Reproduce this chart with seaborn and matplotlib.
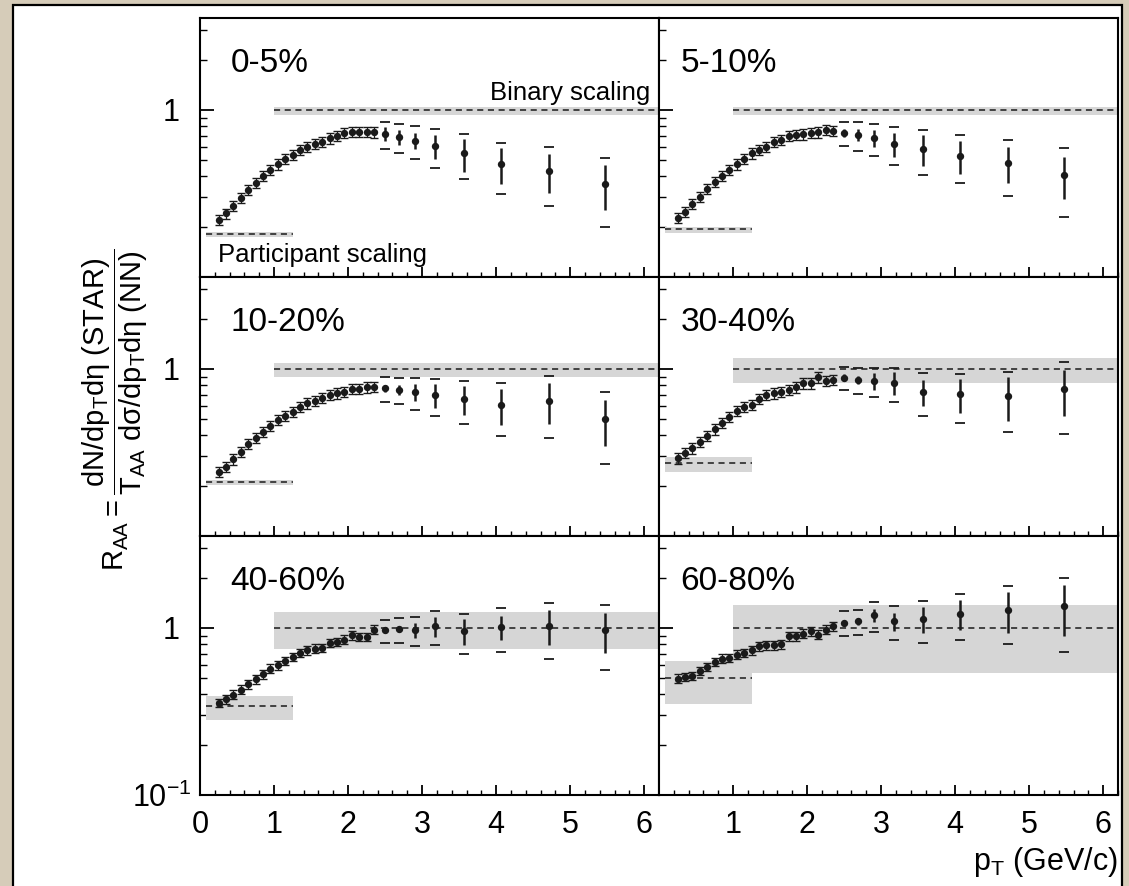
import numpy as np
import pandas as pd
import matplotlib
matplotlib.use("Agg")
import matplotlib.pyplot as plt
from matplotlib.patches import Rectangle
from matplotlib.ticker import FixedLocator, MultipleLocator, NullFormatter
import seaborn as sns

# pT bin centres (GeV/c), same for every centrality class
PT = [0.25, 0.35, 0.45, 0.55, 0.65, 0.75, 0.85, 0.95, 1.05, 1.15, 1.25,
      1.35, 1.45, 1.55, 1.65, 1.75, 1.85, 1.95, 2.05, 2.15, 2.25, 2.35,
      2.5, 2.69, 2.9, 3.17, 3.56, 4.07, 4.71, 5.47]
N_LOW = 22  # dense low-pT points, the rest are the wide high-pT bins

CENTRALITY = ["0-5%", "5-10%", "10-20%", "30-40%", "40-60%", "60-80%"]

RAA = [
    [0.219, 0.240, 0.267, 0.299, 0.332, 0.367, 0.403, 0.437, 0.473, 0.507, 0.540,
     0.576, 0.603, 0.626, 0.646, 0.676, 0.699, 0.731, 0.738, 0.738, 0.738, 0.735,
     0.718, 0.686, 0.655, 0.609, 0.550, 0.473, 0.431, 0.359],
    [0.225, 0.246, 0.273, 0.303, 0.338, 0.372, 0.403, 0.437, 0.473, 0.511, 0.550,
     0.576, 0.603, 0.646, 0.661, 0.699, 0.708, 0.715, 0.731, 0.735, 0.759, 0.749,
     0.731, 0.708, 0.676, 0.626, 0.584, 0.533, 0.484, 0.408],
    [0.241, 0.260, 0.288, 0.320, 0.356, 0.388, 0.422, 0.456, 0.495, 0.526, 0.555,
     0.595, 0.623, 0.646, 0.674, 0.699, 0.715, 0.732, 0.756, 0.759, 0.777, 0.784,
     0.766, 0.749, 0.725, 0.695, 0.658, 0.609, 0.646, 0.500],
    [0.292, 0.316, 0.335, 0.367, 0.399, 0.435, 0.477, 0.516, 0.560, 0.590, 0.609,
     0.661, 0.699, 0.715, 0.732, 0.749, 0.777, 0.821, 0.821, 0.891, 0.848, 0.859,
     0.887, 0.859, 0.848, 0.828, 0.732, 0.705, 0.689, 0.756],
    [0.356, 0.374, 0.399, 0.428, 0.460, 0.493, 0.528, 0.571, 0.598, 0.634, 0.670,
     0.708, 0.735, 0.752, 0.759, 0.813, 0.824, 0.851, 0.904, 0.883, 0.883, 0.977,
     0.968, 0.982, 0.968, 1.028, 0.959, 1.014, 1.033, 0.968],
    [0.497, 0.509, 0.516, 0.553, 0.584, 0.626, 0.655, 0.661, 0.692, 0.708, 0.735,
     0.777, 0.787, 0.787, 0.798, 0.891, 0.891, 0.925, 0.955, 0.912, 0.977, 1.023,
     1.076, 1.096, 1.191, 1.096, 1.137, 1.218, 1.288, 1.348],
]

# errors of the 8 high-pT points (absolute)
STAT_HIGH = [
    [0.067, 0.070, 0.068, 0.097, 0.123, 0.115, 0.113, 0.107],
    [0.040, 0.060, 0.080, 0.100, 0.125, 0.120, 0.120, 0.115],
    [0.040, 0.050, 0.085, 0.115, 0.130, 0.145, 0.180, 0.155],
    [0.040, 0.050, 0.095, 0.130, 0.130, 0.160, 0.200, 0.235],
    [0.040, 0.040, 0.100, 0.140, 0.170, 0.170, 0.240, 0.260],
    [0.040, 0.050, 0.100, 0.140, 0.200, 0.250, 0.350, 0.450],
]
SYS_HIGH = [
    [0.134, 0.137, 0.145, 0.158, 0.165, 0.160, 0.165, 0.160],
    [0.120, 0.137, 0.145, 0.160, 0.175, 0.170, 0.180, 0.180],
    [0.130, 0.135, 0.155, 0.170, 0.190, 0.210, 0.260, 0.230],
    [0.137, 0.150, 0.170, 0.190, 0.210, 0.230, 0.270, 0.350],
    [0.150, 0.170, 0.190, 0.240, 0.260, 0.300, 0.380, 0.410],
    [0.180, 0.190, 0.240, 0.250, 0.320, 0.370, 0.490, 0.630],
]
# relative error bars on the dense low-pT points
LOW_PT_ERR = [0.07, 0.07, 0.07, 0.07, 0.06, 0.06]

# scaling expectations with their uncertainty bands
BINARY_BAND = [(0.933, 1.047), (0.933, 1.047), (0.90, 1.08),
               (0.828, 1.169), (0.752, 1.247), (0.538, 1.367)]
PART_LEVEL = [0.180, 0.193, 0.210, 0.275, 0.341, 0.502]
PART_BAND = [(0.174, 0.187), (0.184, 0.200), (0.202, 0.217),
             (0.243, 0.299), (0.280, 0.392), (0.349, 0.632)]

sns.set_theme(style="ticks")
plt.rcParams["font.family"] = ["Liberation Sans", "DejaVu Sans"]
plt.rcParams["mathtext.fontset"] = "custom"
plt.rcParams["mathtext.rm"] = "Liberation Sans"
plt.rcParams["mathtext.it"] = "Liberation Sans:italic"
plt.rcParams["mathtext.bf"] = "Liberation Sans:bold"

W, H = 1129, 886
fig, axes = plt.subplots(3, 2, figsize=(W / 100, H / 100), dpi=100,
                         gridspec_kw=dict(left=200 / W, right=1118 / W,
                                          top=1 - 18 / H, bottom=1 - 795 / H,
                                          hspace=0, wspace=0))
fig.patch.set_facecolor("#d6ccb9")
fig.patches.append(Rectangle((13 / W, -0.02), (1122 - 13) / W, 1.02 - 5 / H,
                             transform=fig.transFigure, facecolor="white",
                             edgecolor="black", lw=1.6, zorder=-1))

band_color = "#d6d6d6"
dash = (0, (4, 3))

for i, ax in enumerate(axes.flat):
    row, col = divmod(i, 2)
    y = np.array(RAA[i])
    pt = np.array(PT)

    ax.set_yscale("log")
    ax.set_xlim(0, 6.2)
    ax.set_ylim(0.1, 3.55)

    # binary and participant scaling
    lo, hi = BINARY_BAND[i]
    ax.fill_between([1.0, 6.2], lo, hi, color=band_color, lw=0, zorder=1)
    ax.plot([1.0, 6.2], [1, 1], color="k", lw=1.1, ls=dash, zorder=2)
    plo, phi = PART_BAND[i]
    ax.fill_between([0.08, 1.25], plo, phi, color=band_color, lw=0, zorder=1)
    ax.plot([0.08, 1.25], [PART_LEVEL[i]] * 2, color="k", lw=1.1, ls=dash, zorder=2)

    # low pT: small I-shaped bars
    ax.errorbar(pt[:N_LOW], y[:N_LOW], yerr=y[:N_LOW] * LOW_PT_ERR[i], fmt="none",
                ecolor="k", elinewidth=0.9, capsize=2.8, capthick=1.0, zorder=3)
    # high pT: statistical bar plus separate systematic caps
    ph, yh = pt[N_LOW:], y[N_LOW:]
    stat = np.array(STAT_HIGH[i])
    sys_ = np.array(SYS_HIGH[i])
    ax.errorbar(ph, yh, yerr=stat, fmt="none", ecolor="k", elinewidth=1.8, zorder=3)
    ax.plot(ph, yh + sys_, ls="none", marker="_", ms=7, mew=1.3, color="k", zorder=3)
    ax.plot(ph, yh - sys_, ls="none", marker="_", ms=7, mew=1.3, color="k", zorder=3)

    df = pd.DataFrame({"pt": pt, "raa": y})
    sns.scatterplot(data=df, x="pt", y="raa", ax=ax, color="k", s=28,
                    linewidth=0, legend=False, zorder=4)
    ax.set_xlabel("")
    ax.set_ylabel("")

    # axes styling
    for sp in ax.spines.values():
        sp.set_linewidth(1.5)
        sp.set_color("black")
    ax.xaxis.set_major_locator(MultipleLocator(1))
    ax.xaxis.set_minor_locator(MultipleLocator(0.2))
    ax.yaxis.set_major_locator(FixedLocator([0.1, 1]))
    ax.yaxis.set_minor_locator(FixedLocator([0.2, 0.3, 0.4, 0.5, 0.6, 0.7, 0.8, 0.9, 2, 3]))
    ax.yaxis.set_minor_formatter(NullFormatter())
    ax.tick_params(which="both", direction="in", top=False, right=False,
                   colors="black", labelsize=22)
    ax.tick_params(axis="x", which="major", length=7, width=1.3, pad=11)
    ax.tick_params(axis="x", which="minor", length=3.5, width=1.0)
    ax.tick_params(axis="y", which="major", length=10, width=1.3, pad=15)
    ax.tick_params(axis="y", which="minor", length=5, width=1.0)

    if col == 0:
        if row == 2:
            ax.set_yticklabels([r"$\mathregular{10^{-1}}$", "1"])
            ax.yaxis.get_major_ticks()[0].set_pad(6)
        else:
            ax.set_yticklabels(["", "1"])
    else:
        ax.set_yticklabels(["", ""])
    if row == 2:
        ax.set_xticks([0, 1, 2, 3, 4, 5, 6])
        if col == 0:
            ax.set_xticklabels(["0", "1", "2", "3", "4", "5", "6"])
        else:
            ax.set_xticklabels(["", "1", "2", "3", "4", "5", "6"])
    else:
        ax.set_xticklabels([])

    lx = 0.066 if col == 0 else 0.047
    ax.text(lx, 0.79, CENTRALITY[i], transform=ax.transAxes, fontsize=24,
            ha="left", va="baseline", color="black")

axes[0, 0].text(0.98, 0.683, "Binary scaling", transform=axes[0, 0].transAxes,
                fontsize=18.5, ha="right", va="baseline", color="black")
axes[0, 0].text(0.039, 0.058, "Participant scaling", transform=axes[0, 0].transAxes,
                fontsize=18.5, ha="left", va="baseline", color="black")

fig.text(1118 / W, 1 - 870 / H, r"p$_{\mathrm{T}}$ (GeV/c)", fontsize=22,
         ha="right", va="baseline", color="black")
fig.text(115 / W, 1 - 410 / H,
         r"$\mathrm{R_{AA}} = \dfrac{\mathrm{dN/dp_{T}d\eta\ (STAR)}}"
         r"{\mathrm{T_{AA}\ d\sigma/dp_{T}d\eta\ (NN)}}$",
         fontsize=21, rotation=90, ha="center", va="center", color="black")

fig.savefig("out.png", dpi=100, facecolor=fig.get_facecolor())
